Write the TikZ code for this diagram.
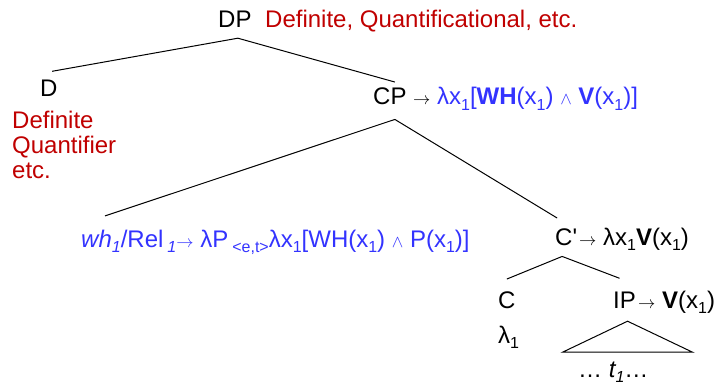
\documentclass[tikz,border=0pt]{standalone}
\usepackage{fontspec}
\newfontfamily\arial{Liberation Sans}
\definecolor{dred}{RGB}{192,0,0}
\definecolor{fblue}{RGB}{51,51,255}
\newcommand\sbs[1]{\raisebox{-0.22em}{\fontsize{16}{16}\selectfont #1}}
\newcommand\arr{{\fontsize{17}{17}\selectfont$\rightarrow$}}
\newcommand\lnd{{\fontsize{17}{17}\selectfont$\wedge$}}
\begin{document}
\begin{tikzpicture}[x=1pt,y=-1pt,
  every node/.style={font=\arial\fontsize{24}{25.3}\selectfont, inner sep=0pt, anchor=base west},
  cat/.style={text=black},
  note/.style={text=dred, align=left},
  sem/.style={text=fblue},
  branch/.style={draw=black, line width=1pt}]
\useasboundingbox (0,0) rectangle (719,387);

\node[cat] (DP) at (218,28) {DP};
\node[note] (dpnote) at (265,28) {Definite, Quantificational, etc.};
\node[cat] (D) at (40,97) {D};
\node[note, anchor=north west] (dnote) at (12,110.5) {Definite\\Quantifier\\etc.};

\node[cat] (CP) at (373,105) {CP};
\node (cpsem) at (413,105) {\arr\ \textcolor{fblue}{λx\sbs{1}[\textbf{WH}(x\sbs{1}) \lnd\ \textbf{V}(x\sbs{1})]}};

\node[sem] (wh) at (81,247) {\textit{wh\sbs{1}}/Rel\,\sbs{\textit{1}}\arr\ λP\,\sbs{<e,t>}λx\sbs{1}[WH(x\sbs{1}) \lnd\ P(x\sbs{1})]};

\node[cat] (Cbar) at (555,245) {C'};
\node (cbarsem) at (579,245) {\arr\ λx\sbs{1}\textbf{V}(x\sbs{1})};

\node[cat] (C) at (498,308) {C};
\node (lam) at (498,343) {λ\sbs{1}};
\node[cat] (IP) at (613,308) {IP};
\node (ipsem) at (638,308) {\arr\ \textbf{V}(x\sbs{1})};
\node (trace) at (578,377) {… \textit{t\sbs{1}}…};

\draw[branch] ([xshift=3pt,yshift=-10pt]DP.south) -- ([xshift=3.3pt,yshift=9pt]D.north);
\draw[branch] ([xshift=3pt,yshift=-10pt]DP.south) -- ([xshift=5pt,yshift=6pt]CP.north);
\draw[branch] ([xshift=5pt,yshift=-14pt]CP.south) -- ([xshift=24pt,yshift=13.5pt]wh.north west);
\draw[branch] ([xshift=5pt,yshift=-14pt]CP.south) -- ([xshift=-9pt,yshift=10pt]Cbar.north);
\draw[branch] ([xshift=-4pt,yshift=-11pt]Cbar.south) -- ([yshift=12pt]C.north);
\draw[branch] ([xshift=-4pt,yshift=-11pt]Cbar.south) -- ([xshift=-5pt,yshift=13pt]IP.north);
\draw[branch] ([xshift=3pt,yshift=-13pt]IP.south) -- ++(-65,31) -- ++(130,0) -- cycle;
\end{tikzpicture}
\end{document}
